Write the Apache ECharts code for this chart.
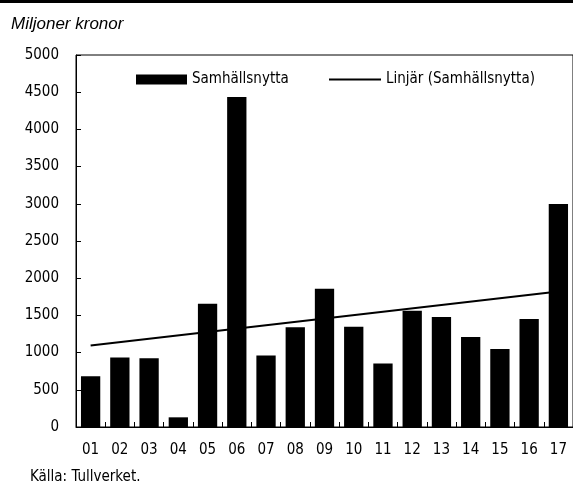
<!DOCTYPE html>
<html>
<head>
<meta charset="utf-8">
<script src="https://cdn.jsdelivr.net/npm/echarts@6/dist/echarts.min.js"></script>
<style>
  html, body { margin: 0; padding: 0; background: #fff; }
  #chart { width: 573px; height: 484px; }
</style>
</head>
<body>
<div id="chart"></div>
<script>
var years = ['01', '02', '03', '04', '05', '06', '07', '08', '09', '10', '11', '12', '13', '14', '15', '16', '17']
var nytta = [682, 933, 925, 130, 1655, 4437, 960, 1342, 1857, 1346, 852, 1561, 1480, 1211, 1050, 1453, 2997]
// trendline, read at first and last year only
var trend = [1094, null, null, null, null, null, null, null, null, null, null, null, null, null, null, null, 1821]
var yTicks = { min: 0, max: 5000, interval: 500 }

var font = '"Liberation Sans Narrow", "DejaVu Sans Condensed", sans-serif'

var myChart = echarts.init(document.getElementById('chart'))

myChart.setOption({
  animation: false,
  textStyle: { fontFamily: font, color: '#000' },
  graphic: [
    { type: 'rect', left: 0, top: 0, shape: { width: 573, height: 3 }, style: { fill: '#000' } },
    { type: 'text', left: 11, top: 16, style: { text: 'Miljoner kronor', font: 'italic 17px "Liberation Sans", sans-serif', fill: '#000' } },
    { type: 'text', left: 30, top: 470, style: { text: 'Källa: Tullverket.', font: '15px ' + font, fill: '#000' } }
  ],
  legend: [{
    data: [{ name: 'Samhällsnytta', icon: 'rect' }],
    left: 136, top: 72, padding: 0,
    itemWidth: 51, itemHeight: 10, itemGap: 5,
    textStyle: { fontFamily: font, fontSize: 15, color: '#000' }
  }, {
    data: [{ name: 'Linjär (Samhällsnytta)', icon: 'rect' }],
    left: 329, top: 72, padding: 0,
    itemWidth: 52, itemHeight: 2, itemGap: 5,
    textStyle: { fontFamily: font, fontSize: 15, color: '#000' }
  }],
  grid: { left: 76, top: 55, right: -3, bottom: 57, show: true, borderColor: '#000', borderWidth: 1 },
  xAxis: [{
    type: 'category',
    data: years,
    axisLine: { lineStyle: { color: '#000', width: 1 } },
    axisTick: { length: 5, lineStyle: { color: '#000' } },
    axisLabel: { fontFamily: font, fontSize: 15, color: '#000', margin: 16 }
  }, {
    type: 'category',
    data: years,
    position: 'top',
    offset: -372,
    axisLine: { show: false, onZero: false },
    axisTick: { show: true, length: 5, lineStyle: { color: '#000' } },
    axisLabel: { show: false }
  }],
  yAxis: [{
    type: 'value',
    min: yTicks.min, max: yTicks.max, interval: yTicks.interval,
    splitLine: { show: false },
    axisLine: { show: true, lineStyle: { color: '#000' } },
    axisTick: { show: true, inside: true, length: 5, lineStyle: { color: '#000' } },
    axisLabel: { fontFamily: font, fontSize: 15, color: '#000', margin: 17, formatter: function (v) { return String(v) } }
  }],
  series: [{
    name: 'Samhällsnytta',
    type: 'bar',
    data: nytta,
    barCategoryGap: '34%',
    itemStyle: { color: '#000' },
    z: 3
  }, {
    name: 'Linjär (Samhällsnytta)',
    type: 'line',
    data: trend,
    connectNulls: true,
    symbol: 'none',
    lineStyle: { color: '#000', width: 2 },
    itemStyle: { color: '#000' },
    z: 1
  }]
})
</script>
</body>
</html>
